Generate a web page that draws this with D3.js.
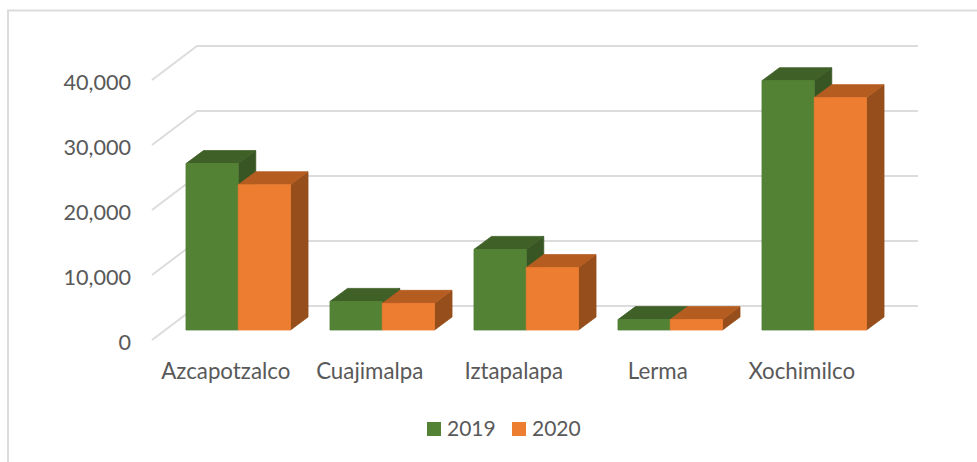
<!DOCTYPE html>
<html>
<head>
<meta charset="UTF-8">
<script src="https://cdnjs.cloudflare.com/ajax/libs/d3/7.8.5/d3.min.js"></script>
<style>
  html, body { margin: 0; padding: 0; background: #fff; }
  svg { display: block; }
  text { font-family: "Lato", sans-serif; fill: #595959; }
</style>
</head>
<body>
<div id="chart"></div>
<script>
var categories = ["Azcapotzalco", "Cuajimalpa", "Iztapalapa", "Lerma", "Xochimilco"];
var seriesNames = ["2019", "2020"];
var values2019 = [25600, 4400, 12400, 1600, 38350];
var values2020 = [22350, 4100, 9600, 1600, 35750];
var yTicks = [0, 10000, 20000, 30000, 40000];

var width = 977, height = 462;

var colors = {
  "2019": { front: "#548235", top: "#3f6027", side: "#375623" },
  "2020": { front: "#ed7d31", top: "#b55d21", side: "#964f1c" }
};

var svg = d3.select("#chart").append("svg")
  .attr("width", width)
  .attr("height", height);

// chart frame, runs off the right and bottom of the crop
svg.append("path")
  .attr("d", "M8," + height + "V10.5H" + width)
  .attr("fill", "none")
  .attr("stroke", "#dcdcdc")
  .attr("stroke-width", 2);

var y = d3.scaleLinear().domain([0, 40000]).range([340, 80]);
var x0 = d3.scaleBand().domain(categories).range([166.25, 886.25]).paddingInner(0.274).paddingOuter(0.137);
var x1 = d3.scaleBand().domain(seriesNames).range([0, x0.bandwidth()]);

// the fake 3d: wall is shifted back from the axis, bars sit in between
var wall = { dx: 45, dy: -34, left: 152, right: 918 };
var barBase = -10;
var barDepth = { dx: 17.5, dy: -13 };

svg.append("g").selectAll("path")
  .data(yTicks)
  .enter().append("path")
  .attr("d", function(d) {
    return "M" + wall.left + "," + y(d) +
      "L" + (wall.left + wall.dx) + "," + (y(d) + wall.dy) +
      "H" + wall.right;
  })
  .attr("fill", "none")
  .attr("stroke", "#dcdcdc")
  .attr("stroke-width", 2);

var yAxis = d3.axisLeft(y)
  .tickValues(yTicks)
  .tickSize(0)
  .tickPadding(0)
  .tickFormat(d3.format(","));

var yG = svg.append("g")
  .attr("transform", "translate(131,2.5)")
  .call(yAxis);
yG.select(".domain").remove();
yG.selectAll("text").style("font-size", "21.6px").attr("font-family", null);

var xAxis = d3.axisBottom(x0).tickSize(0).tickPadding(0);
var xG = svg.append("g")
  .attr("transform", "translate(-12.5,363)")
  .call(xAxis);
xG.select(".domain").remove();
xG.selectAll("text").style("font-size", "22.3px").attr("font-family", null);

// one object per bar, built from the arrays
var bars = [];
categories.forEach(function(c, i) {
  bars.push({ category: c, series: "2019", value: values2019[i] });
  bars.push({ category: c, series: "2020", value: values2020[i] });
});

var bar = svg.append("g").selectAll("g")
  .data(bars)
  .enter().append("g")
  .attr("stroke-width", 0.8)
  .attr("stroke-linejoin", "round");

function px(d) { return x0(d.category) + x1(d.series); }
function py(d) { return y(d.value) + barBase; }
var floorY = y(0) + barBase;

bar.append("path") // side
  .attr("d", function(d) {
    var r = px(d) + x1.bandwidth();
    return "M" + r + "," + py(d) +
      "l" + barDepth.dx + "," + barDepth.dy +
      "V" + (floorY + barDepth.dy) +
      "L" + r + "," + floorY + "Z";
  })
  .attr("fill", function(d) { return colors[d.series].side; })
  .attr("stroke", function(d) { return colors[d.series].side; });

bar.append("path") // top
  .attr("d", function(d) {
    return "M" + px(d) + "," + py(d) +
      "l" + barDepth.dx + "," + barDepth.dy +
      "h" + x1.bandwidth() +
      "l" + (-barDepth.dx) + "," + (-barDepth.dy) + "Z";
  })
  .attr("fill", function(d) { return colors[d.series].top; })
  .attr("stroke", function(d) { return colors[d.series].top; });

bar.append("rect") // front
  .attr("x", px)
  .attr("y", py)
  .attr("width", x1.bandwidth())
  .attr("height", function(d) { return floorY - py(d); })
  .attr("fill", function(d) { return colors[d.series].front; })
  .attr("stroke", function(d) { return colors[d.series].front; });

// legend
var legendX = d3.scaleOrdinal().domain(seriesNames).range([427, 512]);
var legend = svg.append("g").selectAll("g")
  .data(seriesNames)
  .enter().append("g")
  .attr("transform", function(d) { return "translate(" + legendX(d) + ",422)"; });

legend.append("rect")
  .attr("width", 14)
  .attr("height", 14)
  .attr("fill", function(d) { return colors[d].front; });

legend.append("text")
  .attr("x", 20)
  .attr("y", 7)
  .attr("dy", ".35em")
  .style("font-size", "21px")
  .text(function(d) { return d; });
</script>
</body>
</html>
